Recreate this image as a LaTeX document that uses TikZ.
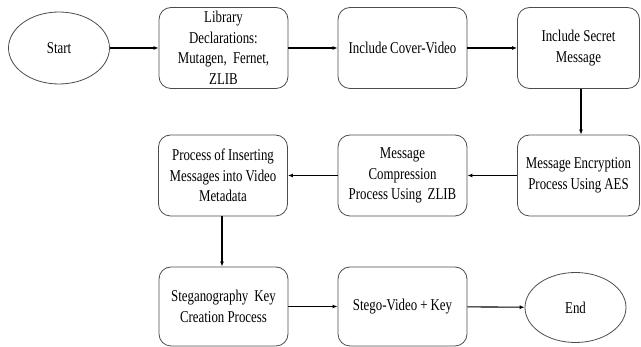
\documentclass[tikz,border=0pt]{standalone}
\usepackage{fontspec}
\setmainfont[FakeStretch=0.78]{Liberation Serif}
\usetikzlibrary{shapes.geometric,arrows.meta}
\begin{document}
\begin{tikzpicture}[x=1pt,y=-1pt,
  every node/.style={font=\fontsize{16.5}{20.5}\selectfont, text=black, align=center, inner sep=0pt,
    execute at begin node={\spaceskip=0.17em plus 0.04em minus 0.02em\xspaceskip=0.2em\relax}},
  procbox/.style={draw=black!70, line width=0.8pt, rounded corners=12pt, minimum width=129pt, minimum height=81pt, text width=122pt},
  term/.style={draw=black!70, line width=0.8pt, ellipse, minimum width=101pt, minimum height=72pt},
  flow/.style={draw=black, line width=1.1pt, -{Latex[length=5pt,width=4pt]}}]
\useasboundingbox (0,0) rectangle (641,347);
\node[term] (start) at (59,48) {Start};
\node[procbox] (lib) at (223.5,48) {Library\\Declarations:\\Mutagen,\ \ Fernet,\\ZLIB};
\node[procbox] (cover) at (402.5,48) {Include Cover-Video};
\node[procbox, minimum width=122pt, text width=118pt] (secret) at (578.5,48) {Include Secret\\Message};
\node[procbox, minimum width=122pt, text width=118pt] (enc) at (578.5,175.5) {Message Encryption\\Process Using AES};
\node[procbox] (comp) at (402.5,175.5) {Message\\Compression\\Process Using\ \ ZLIB};
\node[procbox] (ins) at (223,175.5) {Process of Inserting\\Messages into Video\\Metadata};
\node[procbox, minimum height=79pt] (key) at (223.5,306.5) {Steganography\ \ Key\\Creation Process};
\node[procbox, minimum height=79pt] (stego) at (402.5,306.5) {Stego-Video + Key};
\node[term, minimum height=70pt] (end) at (575.5,307.5) {End};
\draw[flow] (start) -- (lib);
\draw[flow] (lib) -- (cover);
\draw[flow] (cover) -- (secret);
\draw[flow] (secret.south -| 581,0) -- (enc.north -| 581,0);
\draw[flow] (enc) -- (comp);
\draw[flow] (comp) -- (ins);
\draw[flow] (ins.south -| 222,0) -- (key.north -| 222,0);
\draw[flow] (key) -- (stego);
\draw[flow] (stego) -- (end);
\end{tikzpicture}
\end{document}
